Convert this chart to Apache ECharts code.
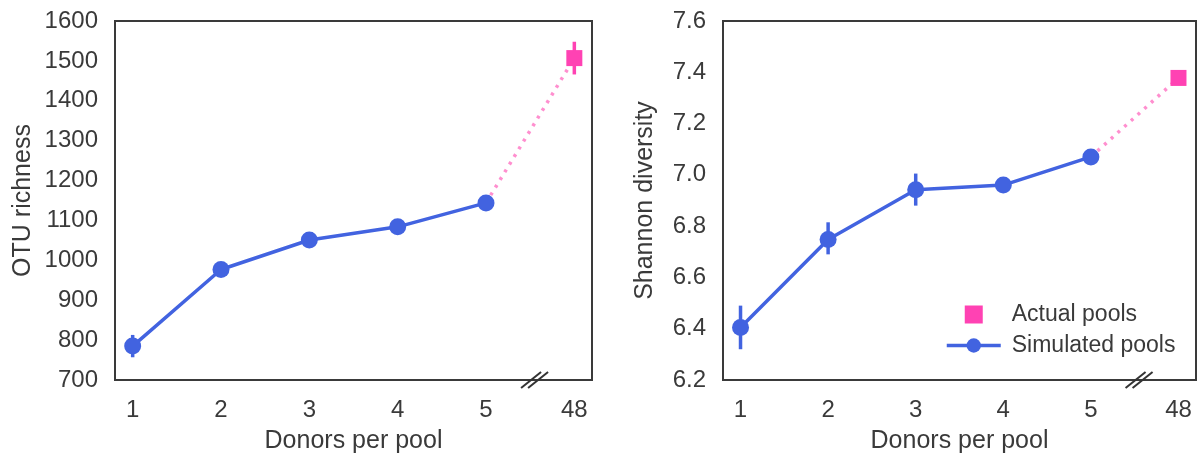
<!DOCTYPE html>
<html>
<head>
<meta charset="utf-8">
<script src="https://cdn.jsdelivr.net/npm/echarts@6/dist/echarts.min.js"></script>
<style>
  html, body { margin: 0; padding: 0; background: #fff; }
  #chart { width: 1200px; height: 455px; }
</style>
</head>
<body>
<div id="chart"></div>
<script>
    // x positions: 1..5 simulated donors, 6 stands for the 48-donor actual pools
    var xTicks = [1, 2, 3, 4, 5, 6];
    var xTickLabels = ['1', '2', '3', '4', '5', '48'];
    var simX = [1, 2, 3, 4, 5];
    var actualX = 6;
    var breakX = 5.55;

    // OTU richness (left)
    var richSim = [785, 977, 1051, 1084, 1144];
    var richSimLow = [757, 965, 1042, 1075, 1135];
    var richSimHigh = [813, 989, 1060, 1093, 1153];
    var richActual = 1507;
    var richActualLow = 1466;
    var richActualHigh = 1548;

    // Shannon diversity (right)
    var shanSim = [6.405, 6.748, 6.942, 6.960, 7.070];
    var shanSimLow = [6.32, 6.69, 6.88, 6.93, 7.05];
    var shanSimHigh = [6.49, 6.815, 7.005, 6.99, 7.09];
    var shanActual = 7.378;
    var shanActualLow = 7.36;
    var shanActualHigh = 7.395;

    var blue = '#4263e0';
    var pink = '#ff42b3';
    var pinkDots = '#ff8fcf';
    var textColor = '#3a3a3a';
    var font = 'Liberation Sans, Arial, sans-serif';

    function pairs(xs, ys) {
        return xs.map(function (x, i) { return [x, ys[i]]; });
    }

    function errData(xs, lo, hi) {
        return xs.map(function (x, i) { return [x, lo[i], hi[i]]; });
    }

    function errorBars(color) {
        return function (params, api) {
            var p1 = api.coord([api.value(0), api.value(1)]);
            var p2 = api.coord([api.value(0), api.value(2)]);
            return {
                type: 'line',
                shape: {x1: p1[0], y1: p1[1], x2: p2[0], y2: p2[1]},
                style: {stroke: color, lineWidth: 3.5}
            };
        };
    }

    // the "//" axis break drawn on the bottom axis line
    function breakMark(params, api) {
        var c = api.coord([api.value(0), api.value(1)]);
        var lines = [-3.5, 3.5].map(function (dx) {
            return {
                type: 'line',
                shape: {x1: c[0] + dx - 10, y1: c[1] + 8, x2: c[0] + dx + 10, y2: c[1] - 8},
                style: {stroke: '#333', lineWidth: 2}
            };
        });
        return {type: 'group', children: lines};
    }

    function xAxisCfg(gridIndex) {
        return {
            type: 'value', gridIndex: gridIndex, min: 0.8, max: 6.2,
            name: 'Donors per pool', nameLocation: 'middle', nameGap: 49,
            nameTextStyle: {fontSize: 25, color: textColor, fontFamily: font},
            axisLine: {show: false}, axisTick: {show: false}, splitLine: {show: false},
            axisLabel: {
                customValues: xTicks, margin: 18, fontSize: 24, color: textColor, fontFamily: font,
                formatter: function (v) { return xTickLabels[xTicks.indexOf(v)]; }
            }
        };
    }

    function yAxisCfg(gridIndex, name, min, max, interval, digits, gap) {
        return {
            type: 'value', gridIndex: gridIndex, min: min, max: max, interval: interval,
            name: name, nameLocation: 'middle', nameGap: gap,
            nameTextStyle: {fontSize: 25, color: textColor, fontFamily: font},
            axisLine: {show: false}, axisTick: {show: false}, splitLine: {show: false},
            axisLabel: {
                margin: 17, fontSize: 24, color: textColor, fontFamily: font,
                formatter: function (v) { return v.toFixed(digits); }
            }
        };
    }

    function panelSeries(i, sim, lo, hi, actual, aLo, aHi, yMin) {
        return [
            {
                name: 'link', type: 'line', xAxisIndex: i, yAxisIndex: i,
                data: [[simX[simX.length - 1], sim[sim.length - 1]], [actualX, actual]],
                showSymbol: false, silent: true,
                lineStyle: {color: pinkDots, width: 3.5, type: [3, 6]}, z: 1
            },
            {
                type: 'custom', xAxisIndex: i, yAxisIndex: i,
                data: errData(simX, lo, hi), renderItem: errorBars(blue), z: 3
            },
            {
                type: 'custom', xAxisIndex: i, yAxisIndex: i,
                data: [[actualX, aLo, aHi]], renderItem: errorBars(pink), z: 3
            },
            {
                name: 'Simulated pools', type: 'line', xAxisIndex: i, yAxisIndex: i,
                data: pairs(simX, sim), symbol: 'circle', symbolSize: 17,
                lineStyle: {color: blue, width: 3.5}, itemStyle: {color: blue}, z: 4
            },
            {
                name: 'Actual pools', type: 'scatter', xAxisIndex: i, yAxisIndex: i,
                data: [[actualX, actual]], symbol: 'rect', symbolSize: 16,
                itemStyle: {color: pink, opacity: 1}, z: 4
            },
            {
                type: 'custom', xAxisIndex: i, yAxisIndex: i, clip: false, silent: true,
                data: [[breakX, yMin]], renderItem: breakMark, z: 10
            }
        ];
    }

    var chart = echarts.init(document.getElementById('chart'));

    var option = {
        backgroundColor: '#fff',
        animation: false,
        grid: [
            {left: 115, right: 608, top: 21, bottom: 75, outerBoundsMode: 'none',
                show: true, borderColor: '#3a3a3a', borderWidth: 2},
            {left: 723, right: 4, top: 21, bottom: 75, outerBoundsMode: 'none',
                show: true, borderColor: '#3a3a3a', borderWidth: 2}
        ],
        legend: {
            orient: 'vertical', left: 940, top: 298,
            itemWidth: 54, itemHeight: 18, itemGap: 8,
            textStyle: {fontSize: 23, color: textColor, fontFamily: font, padding: [0, 0, 0, 6]},
            data: [
                {name: 'Actual pools', icon: 'path://M0,0h10v10h-10z', itemStyle: {opacity: 1}},
                {name: 'Simulated pools', lineStyle: {width: 3.5}}
            ]
        },
        xAxis: [xAxisCfg(0), xAxisCfg(1)],
        yAxis: [
            yAxisCfg(0, 'OTU richness', 700, 1600, 100, 0, 79),
            yAxisCfg(1, 'Shannon diversity', 6.2, 7.6, 0.2, 1, 65)
        ],
        series: panelSeries(0, richSim, richSimLow, richSimHigh, richActual, richActualLow, richActualHigh, 700)
            .concat(panelSeries(1, shanSim, shanSimLow, shanSimHigh, shanActual, shanActualLow, shanActualHigh, 6.2))
    };

    chart.setOption(option);
</script>
</body>
</html>
